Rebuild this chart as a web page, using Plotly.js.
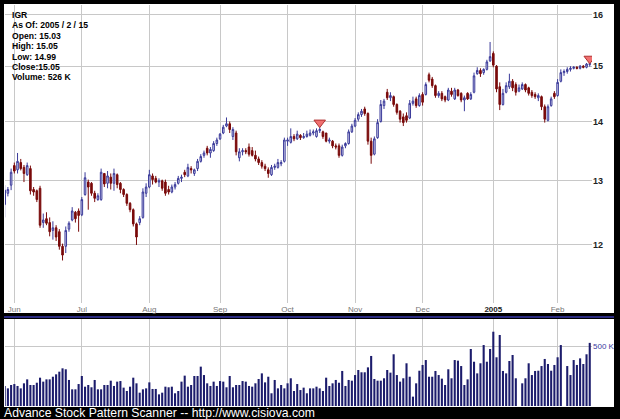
<!DOCTYPE html>
<html><head><meta charset="utf-8">
<script src="https://cdn.plot.ly/plotly-3.0.1.min.js"></script>
<style>html,body{margin:0;padding:0;background:#000;}#chart{width:620px;height:419px;}</style>
</head><body><div id="chart"></div>
<script>
const dates = [
"2004-05-26","2004-05-27","2004-05-28",
"2004-06-01","2004-06-02","2004-06-03","2004-06-04","2004-06-07","2004-06-08","2004-06-09","2004-06-10","2004-06-14","2004-06-15","2004-06-16","2004-06-17","2004-06-18","2004-06-21","2004-06-22","2004-06-23","2004-06-24","2004-06-25","2004-06-28","2004-06-29","2004-06-30",
"2004-07-01","2004-07-02","2004-07-06","2004-07-07","2004-07-08","2004-07-09","2004-07-12","2004-07-13","2004-07-14","2004-07-15","2004-07-16","2004-07-19","2004-07-20","2004-07-21","2004-07-22","2004-07-23","2004-07-26","2004-07-27","2004-07-28","2004-07-29","2004-07-30",
"2004-08-02","2004-08-03","2004-08-04","2004-08-05","2004-08-06","2004-08-09","2004-08-10","2004-08-11","2004-08-12","2004-08-13","2004-08-16","2004-08-17","2004-08-18","2004-08-19","2004-08-20","2004-08-23","2004-08-24","2004-08-25","2004-08-26","2004-08-27","2004-08-30","2004-08-31",
"2004-09-01","2004-09-02","2004-09-03","2004-09-07","2004-09-08","2004-09-09","2004-09-10","2004-09-13","2004-09-14","2004-09-15","2004-09-16","2004-09-17","2004-09-20","2004-09-21","2004-09-22","2004-09-23","2004-09-24","2004-09-27","2004-09-28","2004-09-29","2004-09-30",
"2004-10-01","2004-10-04","2004-10-05","2004-10-06","2004-10-07","2004-10-08","2004-10-11","2004-10-12","2004-10-13","2004-10-14","2004-10-15","2004-10-18","2004-10-19","2004-10-20","2004-10-21","2004-10-22","2004-10-25","2004-10-26","2004-10-27","2004-10-28","2004-10-29",
"2004-11-01","2004-11-02","2004-11-03","2004-11-04","2004-11-05","2004-11-08","2004-11-09","2004-11-10","2004-11-11","2004-11-12","2004-11-15","2004-11-16","2004-11-17","2004-11-18","2004-11-19","2004-11-22","2004-11-23","2004-11-24","2004-11-26","2004-11-29","2004-11-30",
"2004-12-01","2004-12-02","2004-12-03","2004-12-06","2004-12-07","2004-12-08","2004-12-09","2004-12-10","2004-12-13","2004-12-14","2004-12-15","2004-12-16","2004-12-17","2004-12-20","2004-12-21","2004-12-22","2004-12-23","2004-12-27","2004-12-28","2004-12-29","2004-12-30","2004-12-31",
"2005-01-03","2005-01-04","2005-01-05","2005-01-06","2005-01-07","2005-01-10","2005-01-11","2005-01-12","2005-01-13","2005-01-14","2005-01-18","2005-01-19","2005-01-20","2005-01-21","2005-01-24","2005-01-25","2005-01-26","2005-01-27","2005-01-28","2005-01-31",
"2005-02-01","2005-02-02","2005-02-03","2005-02-04","2005-02-07","2005-02-08","2005-02-09","2005-02-10","2005-02-11","2005-02-14","2005-02-15"
];
const openP = [
12.62,12.80,12.93,13.25,13.18,13.30,13.22,13.10,13.20,12.86,
12.84,12.88,12.34,12.40,12.34,12.22,12.26,12.20,11.98,11.98,
12.24,12.38,12.50,12.52,12.46,12.78,12.98,12.96,12.80,12.70,
12.70,13.12,12.96,13.06,12.96,13.10,12.96,12.86,12.78,12.64,
12.54,12.32,12.34,12.42,12.80,12.90,13.08,13.04,12.98,13.00,
12.98,12.86,12.82,12.90,12.96,13.04,13.14,13.08,13.20,13.12,
13.20,13.32,13.42,13.54,13.46,13.50,13.62,13.70,13.80,13.92,
13.96,13.74,13.80,13.38,13.48,13.50,13.56,13.50,13.42,13.36,
13.30,13.24,13.18,13.10,13.22,13.22,13.28,13.32,13.66,13.64,
13.74,13.70,13.76,13.72,13.74,13.76,13.80,13.74,13.84,13.82,
13.80,13.66,13.66,13.58,13.58,13.42,13.58,13.62,13.82,13.92,
14.04,14.12,14.22,14.14,13.66,13.44,13.72,14.00,14.28,14.52,
14.42,14.44,14.30,14.18,14.08,14.10,14.06,14.32,14.40,14.28,
14.48,14.48,14.84,14.76,14.64,14.46,14.50,14.44,14.38,14.54,
14.40,14.56,14.50,14.38,14.50,14.40,14.52,14.86,14.92,14.88,
14.94,15.10,15.24,15.00,14.62,14.30,14.52,14.62,14.72,14.66,
14.54,14.58,14.66,14.60,14.52,14.48,14.42,14.44,14.26,14.02,
14.28,14.50,14.46,14.72,14.88,14.90,14.94,14.96,14.98,14.96,
15.00,14.98,15.03
];
const highP = [
12.93,12.90,13.20,13.30,13.46,13.36,13.26,13.30,13.25,12.90,
12.86,12.92,12.48,12.50,12.42,12.36,12.30,12.24,12.02,12.28,
12.36,12.58,12.52,12.56,12.74,13.14,13.02,12.98,12.84,12.80,
13.20,13.12,13.16,13.12,13.20,13.12,12.98,12.88,12.80,12.66,
12.56,12.34,12.44,12.88,12.96,13.18,13.12,13.08,13.04,13.02,
13.02,12.92,12.94,12.98,13.08,13.10,13.18,13.28,13.24,13.20,
13.36,13.44,13.50,13.58,13.56,13.66,13.72,13.80,13.94,14.07,
14.00,13.90,13.84,13.54,13.54,13.54,13.62,13.56,13.50,13.40,
13.34,13.28,13.22,13.26,13.28,13.36,13.34,13.72,13.72,13.88,
13.78,13.84,13.78,13.80,13.84,13.86,13.86,13.88,13.90,13.84,
13.80,13.72,13.68,13.62,13.62,13.60,13.64,13.86,13.96,14.06,
14.16,14.22,14.26,14.16,13.72,13.74,14.04,14.38,14.40,14.58,
14.52,14.46,14.32,14.20,14.14,14.16,14.38,14.44,14.44,14.50,
14.52,14.70,14.88,14.80,14.66,14.54,14.54,14.46,14.60,14.60,
14.60,14.58,14.52,14.46,14.52,14.52,14.88,14.98,14.96,14.96,
15.12,15.46,15.28,15.02,14.70,14.58,14.70,14.86,14.76,14.70,
14.66,14.70,14.68,14.62,14.56,14.52,14.50,14.46,14.30,14.30,
14.44,14.54,14.76,14.94,14.94,14.98,15.00,15.00,15.00,15.02,
15.02,15.06,15.05
];
const lowP = [
12.42,12.75,12.85,13.12,13.12,13.17,12.98,13.08,12.78,12.76,
12.66,12.26,12.26,12.30,12.13,12.08,12.06,11.93,11.77,11.88,
12.20,12.36,12.34,12.20,12.44,12.76,12.54,12.76,12.66,12.68,
12.68,12.90,12.88,12.86,12.84,12.88,12.80,12.74,12.60,12.50,
12.28,12.00,12.30,12.40,12.74,12.88,12.94,12.96,12.90,12.84,
12.76,12.78,12.80,12.86,12.94,12.98,13.06,13.06,13.12,13.08,
13.16,13.30,13.38,13.42,13.38,13.48,13.58,13.68,13.78,13.90,
13.80,13.68,13.42,13.32,13.42,13.44,13.40,13.40,13.32,13.26,
13.20,13.16,13.05,13.08,13.18,13.20,13.24,13.30,13.58,13.62,
13.66,13.68,13.68,13.70,13.72,13.74,13.76,13.72,13.80,13.70,
13.64,13.62,13.54,13.52,13.38,13.40,13.54,13.60,13.80,13.90,
14.00,14.08,14.10,13.60,13.28,13.42,13.70,13.98,14.22,14.38,
14.36,14.26,14.12,13.98,13.92,13.98,14.04,14.28,14.24,14.26,
14.28,14.46,14.70,14.60,14.42,14.42,14.36,14.34,14.36,14.44,
14.38,14.44,14.34,14.18,14.38,14.38,14.50,14.84,14.80,14.84,
14.92,15.08,14.98,14.52,14.20,14.28,14.50,14.58,14.54,14.46,
14.52,14.56,14.52,14.46,14.42,14.40,14.36,14.20,13.98,14.00,
14.26,14.40,14.44,14.70,14.82,14.86,14.90,14.94,14.94,14.94,
14.96,14.96,14.99
];
const closeP = [
12.85,12.86,13.14,13.16,13.32,13.20,13.12,13.25,12.84,12.82,
12.70,12.30,12.38,12.33,12.20,12.26,12.12,11.98,11.85,12.22,
12.33,12.52,12.40,12.45,12.70,13.05,12.90,12.80,12.72,12.76,
13.14,12.95,13.08,12.96,13.12,12.94,12.86,12.78,12.64,12.54,
12.32,12.12,12.40,12.82,12.90,13.10,13.02,12.98,13.00,12.88,
12.80,12.82,12.90,12.94,13.04,13.06,13.10,13.22,13.18,13.18,
13.32,13.40,13.46,13.46,13.52,13.62,13.68,13.78,13.90,13.96,
13.86,13.86,13.48,13.48,13.50,13.48,13.44,13.42,13.36,13.30,
13.24,13.20,13.12,13.22,13.24,13.30,13.30,13.68,13.68,13.74,
13.70,13.78,13.72,13.74,13.78,13.80,13.82,13.84,13.86,13.74,
13.66,13.68,13.58,13.56,13.42,13.56,13.62,13.82,13.92,14.02,
14.12,14.18,14.14,13.66,13.42,13.70,13.98,14.30,14.36,14.42,
14.46,14.30,14.16,14.04,13.98,14.02,14.32,14.36,14.28,14.46,
14.34,14.66,14.74,14.64,14.46,14.50,14.40,14.38,14.56,14.48,
14.56,14.46,14.38,14.42,14.40,14.48,14.82,14.92,14.86,14.94,
15.08,15.18,15.02,14.58,14.30,14.50,14.64,14.72,14.60,14.52,
14.60,14.66,14.56,14.50,14.46,14.44,14.46,14.26,14.04,14.26,
14.40,14.44,14.70,14.88,14.90,14.94,14.96,14.98,14.96,15.00,
14.98,15.04,15.05
];
const volumeK = [
167,147,175,183,167,147,189,222,175,175,
194,236,203,222,222,244,264,286,314,306,
217,139,139,183,250,161,175,156,217,139,
139,175,175,211,167,203,208,153,125,161,
236,189,111,139,147,197,142,142,97,111,
161,156,161,106,125,203,253,161,175,250,
250,328,258,189,167,203,167,208,203,156,
250,156,175,175,208,203,167,161,189,225,
272,197,244,106,217,147,175,147,189,231,
125,183,133,153,106,147,147,161,147,125,
236,167,189,217,194,292,167,217,211,258,
300,281,281,322,417,225,211,211,231,300,
278,431,258,203,231,356,244,78,189,294,
342,383,244,244,292,258,228,175,306,231,
383,378,333,175,222,475,369,272,356,508,
369,475,619,406,592,292,272,375,425,231,
0,189,231,356,258,292,294,333,392,350,
294,342,406,508,0,333,258,383,342,397,
350,431,526
];
const tickDates = ["2004-06-01","2004-07-01","2004-08-02","2004-09-01","2004-10-01","2004-11-01","2004-12-01","2005-01-03","2005-02-01"];
const tickLabels = ["Jun","Jul","Aug","Sep","Oct","Nov","Dec","<span style=\"color:#222\"><b>2005</b></span>","Feb"];
const priceTicks = [12,13,14,15,16];
const signalDates = ["2004-10-15","2005-02-15"];
const signalPrices = [13.98,15.14];
const infoLines = ["IGR","As Of: 2005 / 2 / 15","Open: 15.03","High: 15.05","Low: 14.99","Close:15.05","Volume: 526 K"];
const footerText = "Advance Stock Pattern Scanner -- http://www.cisiova.com";

const volume = volumeK.map(v => v * 1000);

const traces = [
  {
    type: "candlestick", x: dates, open: openP, high: highP, low: lowP, close: closeP,
    xaxis: "x", yaxis: "y", whiskerwidth: 0,
    increasing: {line: {color: "#3a3a9a", width: 1}, fillcolor: "#dedef2"},
    decreasing: {line: {color: "#7a0a0a", width: 1}, fillcolor: "#7a0a0a"},
    hoverinfo: "skip", showlegend: false
  },
  {
    type: "scatter", mode: "markers", x: signalDates, y: signalPrices,
    xaxis: "x", yaxis: "y",
    marker: {symbol: "triangle-down", size: 10, color: "#f07070", line: {color: "#b03030", width: 1}},
    hoverinfo: "skip", showlegend: false
  },
  {
    type: "bar", x: dates, y: volume, xaxis: "x", yaxis: "y2",
    marker: {color: "#1c1c6c", line: {width: 0}},
    hoverinfo: "skip", showlegend: false
  }
];

const W = 620, H = 419, mL = 5, mR = 28, mT = 5, mB = 13;
const pw = W - mL - mR, ph = H - mT - mB;
const px = v => (v - mL) / pw;
const py = v => (H - mB - v) / ph;

const annotations = infoLines.map((t, i) => ({
  xref: "paper", yref: "paper", x: px(10), y: py(15 + i * 10.4),
  xanchor: "left", yanchor: "middle", align: "left", showarrow: false,
  text: "<b>" + t + "</b>", font: {size: 8.6, color: "#000000"}
}));
annotations.push({xref: "paper", yref: "paper", x: px(2), y: py(413), xanchor: "left", yanchor: "middle",
  showarrow: false, text: footerText, font: {size: 12.2, color: "#ffffff"}});

const layout = {
  width: W, height: H,
  margin: {l: mL, r: mR, t: mT, b: mB, pad: 0},
  paper_bgcolor: "#000000",
  plot_bgcolor: "rgba(0,0,0,0)",
  showlegend: false,
  bargap: 0.35,
  font: {family: "Liberation Sans, Arial, sans-serif"},
  xaxis: {
    type: "category", range: [0.1, 182.7], anchor: "y",
    tickmode: "array", tickvals: tickDates, ticktext: tickLabels,
    tickfont: {size: 8, color: "#777777"},
    ticks: "", showgrid: true, gridcolor: "#c8c8c8", gridwidth: 1,
    showline: false, zeroline: false,
    rangeslider: {visible: false}, fixedrange: true
  },
  yaxis: {
    type: "log", domain: [py(303), 1], range: [1.04773, 1.20925],
    side: "right", tickmode: "array", tickvals: priceTicks,
    ticktext: priceTicks.map(String),
    tickfont: {size: 9, color: "#222222", weight: "bold"},
    ticks: "", showgrid: true, gridcolor: "#c8c8c8", showline: false, zeroline: false,
    fixedrange: true
  },
  yaxis2: {
    domain: [0, py(319)], range: [0, 725000], anchor: "x",
    side: "right", tickmode: "array", tickvals: [500000], ticktext: ["500 K"],
    tickfont: {size: 8, color: "#3a3aa0"},
    ticks: "", showgrid: true, gridcolor: "#c8c8c8", showline: false, zeroline: false,
    fixedrange: true
  },
  shapes: [
    {type: "rect", xref: "paper", yref: "paper", layer: "below",
     x0: px(4), x1: px(614), y0: py(313), y1: py(4), fillcolor: "#ffffff", line: {width: 0}},
    {type: "rect", xref: "paper", yref: "paper", layer: "below",
     x0: px(4), x1: px(614), y0: py(407), y1: py(319), fillcolor: "#ffffff", line: {width: 0}},
    {type: "line", xref: "paper", yref: "paper", layer: "below",
     x0: px(4), x1: px(614), y0: py(317), y1: py(317), line: {color: "#2a2a80", width: 2}}
  ],
  annotations: annotations
};

const lens = [dates.length, openP.length, highP.length, lowP.length, closeP.length, volumeK.length];
if (lens.some(l => l !== lens[0])) {
  layout.annotations.push({xref: "paper", yref: "paper", x: 0.5, y: 0.5, showarrow: false,
    text: "LEN MISMATCH " + lens.join(","), font: {size: 16, color: "red"}});
}

Plotly.newPlot("chart", traces, layout, {displayModeBar: false, staticPlot: true});
</script></body></html>
